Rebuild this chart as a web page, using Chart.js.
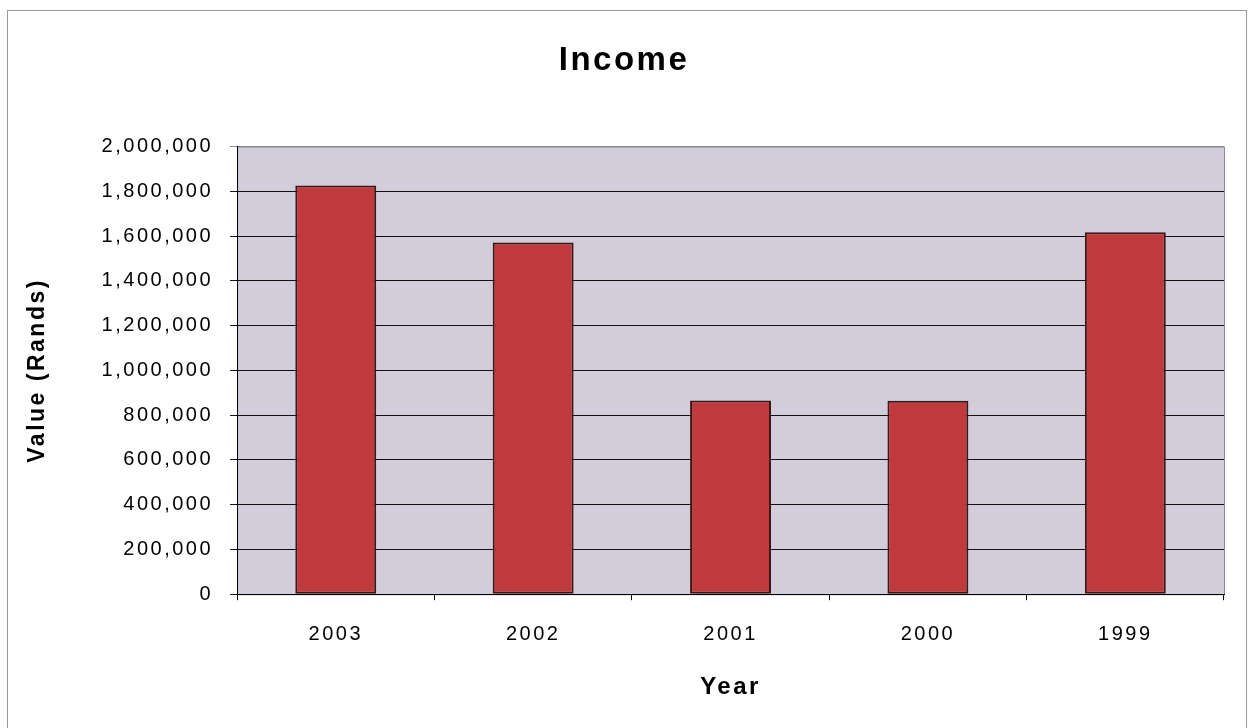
<!DOCTYPE html>
<html>
<head>
<meta charset="utf-8">
<script src="https://cdn.jsdelivr.net/npm/chart.js@4.4.0/dist/chart.umd.min.js"></script>
<style>
    html, body { margin: 0; padding: 0; background: #fff; overflow: hidden; }
    .frame {
        position: absolute; left: 7px; top: 10px; width: 1238px; height: 740px;
        border: 1px solid #9a9a9a;
    }
    .container { position: absolute; left: 0; top: 0; width: 1251px; height: 728px; }
</style>
</head>
<body>
<div class="frame"></div>
<div class="container"><canvas id="incomeChart" width="1251" height="728"></canvas></div>
<script>
// Data dari grafik
const years = ['2003', '2002', '2001', '2000', '1999'];
const incomeValues = [1826000, 1571000, 866000, 864000, 1617000];
const yTicks = [0, 200000, 400000, 600000, 800000, 1000000, 1200000, 1400000, 1600000, 1800000, 2000000];

const fontFamily = '"Liberation Sans", Arial, sans-serif';

// Jarak huruf lebar seperti teks Excel lama
const letterSpacing = {
    id: 'letterSpacing',
    beforeUpdate(chart) { chart.ctx.letterSpacing = '2.5px'; },
    beforeDraw(chart) { chart.ctx.letterSpacing = '2.5px'; }
};

// Latar belakang area plot
const plotBackground = {
    id: 'plotBackground',
    beforeDraw(chart) {
        const { ctx, chartArea: a } = chart;
        ctx.save();
        ctx.fillStyle = '#d1cddb';
        ctx.fillRect(a.left, a.top, a.right - a.left, a.bottom - a.top);
        ctx.strokeStyle = '#8c8a94';
        ctx.lineWidth = 1;
        ctx.strokeRect(a.left + 0.5, a.top + 0.5, a.right - a.left, a.bottom - a.top);
        ctx.restore();
    }
};

new Chart(document.getElementById('incomeChart'), {
    type: 'bar',
    data: {
        labels: years,
        datasets: [{
            label: 'Income',
            data: incomeValues,
            backgroundColor: '#c0393c',
            borderColor: '#3a1616',
            borderWidth: 2,
            borderSkipped: false,
            barPercentage: 0.41,
            categoryPercentage: 1.0
        }]
    },
    options: {
        responsive: false,
        animation: false,
        layout: { padding: { left: 24, right: 27, top: 26, bottom: 14 } },
        plugins: {
            legend: { display: false },
            tooltip: { enabled: false },
            title: {
                display: true,
                text: 'Income',
                color: '#000',
                font: { family: fontFamily, size: 33, weight: 'bold' },
                padding: { top: 15, bottom: 66 }
            }
        },
        scales: {
            x: {
                grid: {
                    display: true,
                    drawOnChartArea: false,
                    drawTicks: true,
                    tickLength: 6,
                    color: '#000'
                },
                border: { color: '#000', width: 1 },
                ticks: {
                    color: '#000',
                    font: { family: fontFamily, size: 20 },
                    padding: 22
                },
                title: {
                    display: true,
                    text: 'Year',
                    color: '#000',
                    font: { family: fontFamily, size: 24, weight: 'bold' },
                    padding: { top: 5, bottom: 12 }
                }
            },
            y: {
                min: 0,
                max: 2000000,
                afterBuildTicks(axis) {
                    axis.ticks = yTicks.map(v => ({ value: v }));
                },
                grid: {
                    color: (c) => (c.tick && c.tick.value === 2000000 ? '#8c8a94' : '#111'),
                    lineWidth: 1,
                    tickLength: 7
                },
                border: { color: '#000', width: 1 },
                ticks: {
                    color: '#000',
                    font: { family: fontFamily, size: 20 },
                    padding: 17,
                    callback: function(value) {
                        return value.toLocaleString('en-US');
                    }
                },
                title: {
                    display: true,
                    text: 'Value (Rands)',
                    color: '#000',
                    font: { family: fontFamily, size: 23, weight: 'bold' },
                    padding: { top: 0, bottom: 33 }
                }
            }
        }
    },
    plugins: [letterSpacing, plotBackground]
});
</script>
</body>
</html>
